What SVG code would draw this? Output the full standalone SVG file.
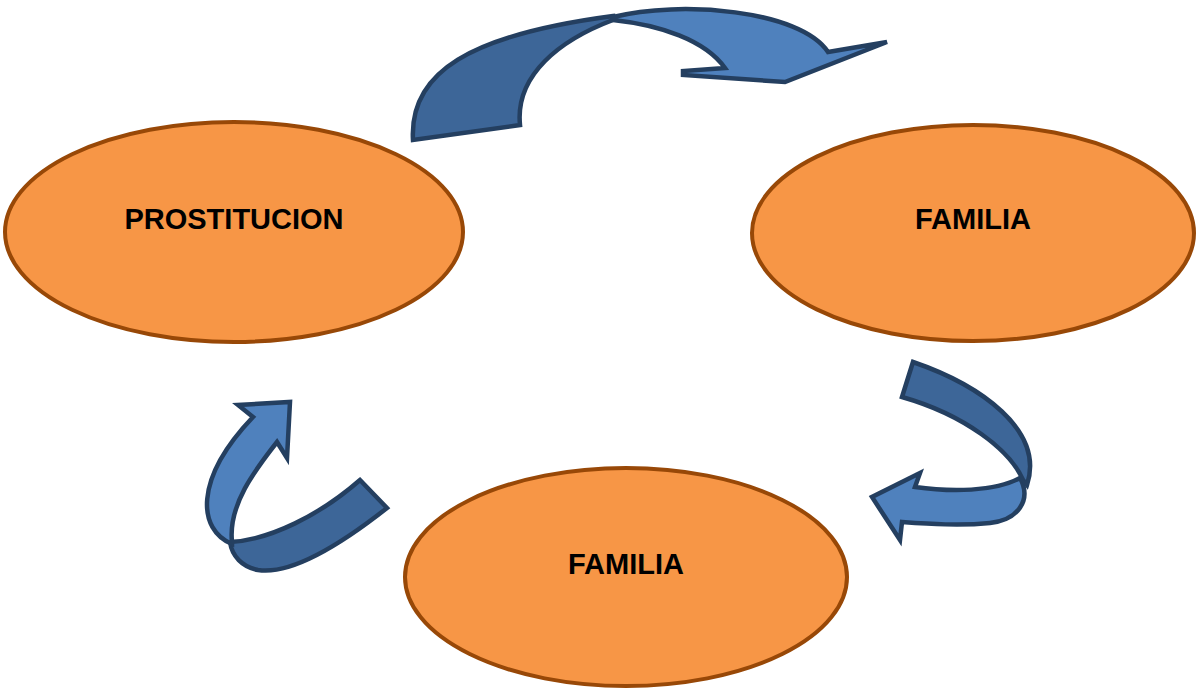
<svg xmlns="http://www.w3.org/2000/svg" width="1198" height="691" viewBox="0 0 1198 691">
<style>
.node ellipse{fill:#F79646;stroke:#984807;stroke-width:4}
.node text{font-family:"Liberation Sans",Arial,sans-serif;font-weight:bold;font-size:29px;fill:#000;text-anchor:middle}
.dark{fill:#3D6698;stroke:#243F60;stroke-width:4.5;stroke-linejoin:miter}
.light{fill:#4F81BD;stroke:#243F60;stroke-width:4.5;stroke-linejoin:miter}
</style>
<rect width="1198" height="691" fill="#fff"/>
<g id="connectors">
<g id="arrow-top">
<path class="dark" d="M413,140 C409,72 470,35 613,16 L613,20 C560,40 515,75 520,125 Z"/>
<path class="light" d="M613,17 C680,0 800,10 828,52 L887,42 L785,82 L683,75 L683,71 L725,68 C705,40 660,25 613,20 Z"/>
</g>
<g id="arrow-right">
<path class="light" d="M1020,478 C1032,500 1018,520 990,523 C960,526 930,524 902,522 L900,540 L872,497 L920,473 L915,487 C950,492 995,492 1020,478 Z"/>
<path class="dark" d="M913,362 C980,385 1045,430 1027,485 L1023,480 C1010,450 965,415 902,397 Z"/>
</g>
<g id="arrow-left">
<path class="dark" d="M360,480 L387,508 C340,545 290,575 258,570 C242,567 232,556 230,542 C270,540 320,515 360,480 Z"/>
<path class="light" d="M232,544 C198,530 193,480 253,417 L238,405 L290,402 L287,458 L277,442 C255,470 228,505 232,542 Z"/>
</g>
</g>
<g id="node-prostitucion" class="node">
<ellipse cx="234" cy="232" rx="229" ry="110"/>
<text x="234" y="229">PROSTITUCION</text>
</g>
<g id="node-familia-right" class="node">
<ellipse cx="973" cy="233" rx="221" ry="108"/>
<text x="973" y="229">FAMILIA</text>
</g>
<g id="node-familia-bottom" class="node">
<ellipse cx="626" cy="577" rx="221" ry="109"/>
<text x="626" y="574">FAMILIA</text>
</g>
</svg>
